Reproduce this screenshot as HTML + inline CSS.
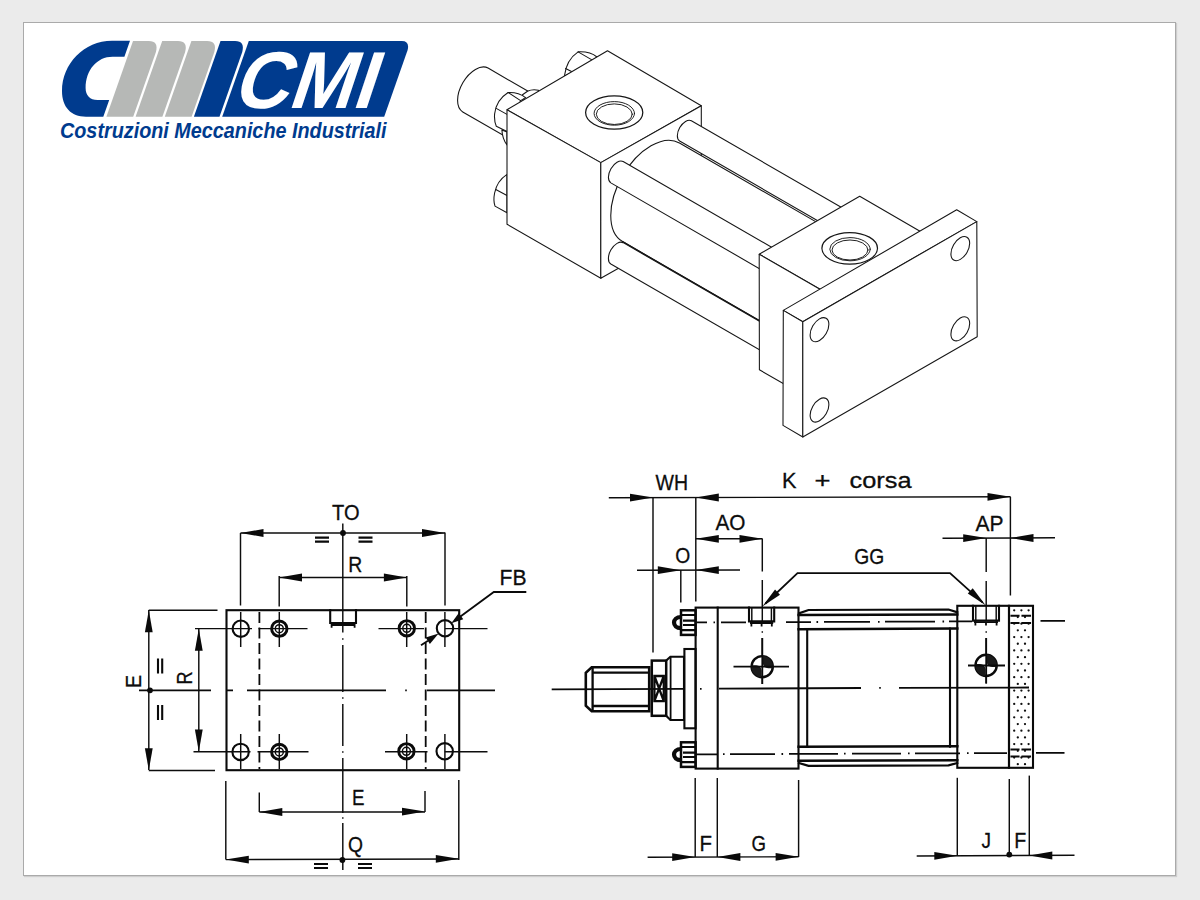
<!DOCTYPE html>
<html lang="it"><head><meta charset="utf-8"><title>CMI - Costruzioni Meccaniche Industriali</title>
<style>
html,body{margin:0;padding:0}
body{width:1200px;height:900px;background:#ebebeb;overflow:hidden;position:relative;font-family:"Liberation Sans",sans-serif}
#panel{position:absolute;left:23px;top:22px;width:1151px;height:852px;background:#fff;border:1px solid #aaa;box-shadow:1px 1px 1px rgba(0,0,0,.12)}
svg{position:absolute;left:0;top:0}
.i{stroke:#161616;stroke-width:1.08;fill:#fff;stroke-linejoin:round;stroke-linecap:round}
.in{stroke:#161616;stroke-width:1.08;fill:none;stroke-linejoin:round;stroke-linecap:round}
.b{stroke:#0a0a0a;stroke-width:2.1;fill:none;stroke-linecap:square}
.m{stroke:#0a0a0a;stroke-width:1.8;fill:none}
.t{stroke:#0d0d0d;stroke-width:1.45;fill:none}
.a{fill:#0a0a0a;stroke:none}
.l{font-family:"Liberation Sans",sans-serif;font-size:22px;fill:#0d0d0d;stroke:#0d0d0d;stroke-width:.3px}
</style></head><body>
<div id="panel"></div>
<svg width="1200" height="900" viewBox="0 0 1200 900">
<path d="M106.4,116.7 L133.01,41.1 L148.81,41.1 Q158.81,41.1 155.94,52.1 L133.2,116.7 Z" fill="#b6b8b6"/>
<path d="M135.6,116.7 L162.21,41.1 L178.01,41.1 Q188.01,41.1 185.14,52.1 L162.4,116.7 Z" fill="#b6b8b6"/>
<path d="M164.8,116.7 L191.41,41.1 L207.21,41.1 Q217.21,41.1 214.34,52.1 L191.6,116.7 Z" fill="#b6b8b6"/>
<path d="M193.9,116.7 L220.51,41.1 L235.11,41.1 Q245.11,41.1 242.24,52.1 L219.5,116.7 Z" fill="#003b8e"/>
<path fill="#003b8e" d="M130,40.8 L112,40.8 C84,40.8 62,64 62,91 C62,107 71,116.7 86,116.7 L103.3,116.7 L109.2,100 L97.5,100 C90,100 85.6,95.5 85.6,88 C85.6,70 97,56.7 112.5,56.7 L124.4,56.7 Z"/>
<path d="M222.2,116.7 L248.81,41.1 L401.81,41.1 Q409.81,41.1 407.64,50.1 L384.2,116.7 Z" fill="#003b8e"/>
<text id="cmi" transform="translate(231,107.6) skewX(-18.4)" x="0" y="0" font-family="Liberation Sans, sans-serif" font-weight="700" font-size="80.5" fill="#fff" textLength="141" lengthAdjust="spacingAndGlyphs">CMI</text>
<text id="sub" x="60" y="137.5" font-family="Liberation Sans, sans-serif" font-weight="700" font-style="italic" font-size="22.3" fill="#003b8e" textLength="326.5" lengthAdjust="spacingAndGlyphs">Costruzioni Meccaniche Industriali</text>
<path d="M488.05,68.09 A25.3,14.61 -60 0 0 462.75,111.91 L522.75,146.55 L548.05,102.73 Z" fill="#fff" stroke="none"/><path class="in" d="M548.05,102.73 L488.05,68.09 A25.3,14.61 -60 0 0 462.75,111.91 L522.75,146.55"/>
<path class="i" d="M578.1,51.9 C572,56 566,63 564.4,76 L600,60 L597,57 C592,53 585,51.5 578.1,51.9 Z"/>
<path class="in" d="M578.1,51.9 L591.5,59.6 M565.6,68.5 L572,71.8"/>
<path class="i" d="M522.5,94.8 L527.5,91.2 C531,89.6 535,89.4 538.5,90.3 L540,98 L525,104 Z"/>
<path class="i" d="M508.1,92.5 C501,97 495.5,105 494.6,114 C494.2,119 494.8,123 496.3,126.3 L507,131.6 L520.6,100.6 L525.6,97.6 C521,94 515,92.2 508.1,92.5 Z"/>
<path class="in" d="M508.1,92.5 L520.6,100.6 M496.2,108.4 L507,114.4"/>
<path class="i" d="M501.9,130 C502.2,136 504,141 507,145 L507,132 Z"/>
<path class="i" d="M507,174.4 C500,179 496,186 494.6,193 C493.6,198 493.9,203 495,206.1 L507,212.8 Z"/>
<path class="in" d="M495.8,189.6 L507,195.6"/>
<polygon class="i" points="607.5,50.8 701.3,105.8 600.8,162.6 507,109.7"/>
<polygon class="i" points="507,109.7 600.8,162.6 600.8,278.3 507,224.2"/>
<polygon class="i" points="600.8,162.6 701.3,105.8 701.3,221.5 600.8,278.3"/>
<ellipse class="in" cx="614.2" cy="112.5" rx="28.6" ry="16.6" style="stroke-width:1.25"/>
<ellipse class="in" cx="614.3" cy="113.4" rx="20.2" ry="11.8" style="stroke-width:.95"/>
<ellipse class="in" cx="614.3" cy="114.2" rx="18" ry="10.3" style="stroke-width:.95"/>
<path d="M691.35,120.77 A11.7,6.76 -60 0 0 679.65,141.03 L854.65,242.07 L866.35,221.81 Z" fill="#fff" stroke="none"/><path class="in" d="M866.35,221.81 L691.35,120.77 A11.7,6.76 -60 0 0 679.65,141.03 L854.65,242.07"/>
<path d="M679.45,143.02 A56.9,32.85 -60 0 0 622.55,241.58 L772.55,328.18 L829.45,229.63 Z" fill="#fff" stroke="none"/><path class="in" d="M829.45,229.63 L679.45,143.02 A56.9,32.85 -60 0 0 622.55,241.58 L772.55,328.18"/>
<path d="M623.15,161.55 A12.3,7.1 -60 0 0 610.85,182.85 L770.85,275.23 L783.15,253.93 Z" fill="#fff" stroke="none"/><path class="in" d="M783.15,253.93 L623.15,161.55 A12.3,7.1 -60 0 0 610.85,182.85 L770.85,275.23"/>
<path d="M623.15,242.65 A12.3,7.1 -60 0 0 610.85,263.95 L770.85,356.33 L783.15,335.03 Z" fill="#fff" stroke="none"/><path class="in" d="M783.15,335.03 L623.15,242.65 A12.3,7.1 -60 0 0 610.85,263.95 L770.85,356.33"/>
<path class="in" d="M622.55,241.58 L762,322.1"/>
<polygon class="i" points="859.7,196.3 922.6,232.7 822.6,290.8 759.2,254.2"/>
<polygon class="i" points="759.2,254.2 822.6,290.8 822.6,406 759.4,369.8"/>
<ellipse class="in" cx="849.7" cy="248.3" rx="27.8" ry="15.8" style="stroke-width:1.25"/>
<ellipse class="in" cx="850" cy="249.2" rx="20.2" ry="11.6" style="stroke-width:.95"/>
<ellipse class="in" cx="850" cy="250" rx="18" ry="10" style="stroke-width:.95"/>
<polygon class="i" points="783.3,310.4 956.7,209.7 976.8,221.6 802.8,321.7"/>
<polygon class="i" points="783.3,310.4 802.8,321.7 802.8,437 783,425.4"/>
<polygon class="i" points="802.8,321.7 976.8,221.6 977.2,336.8 802.8,437"/>
<ellipse class="in" cx="819.5" cy="329.7" rx="13.2" ry="7.7" transform="rotate(-60 819.5 329.7)"/>
<ellipse class="in" cx="819.5" cy="410" rx="13.2" ry="7.7" transform="rotate(-60 819.5 410)"/>
<ellipse class="in" cx="960.3" cy="248.6" rx="13.2" ry="7.7" transform="rotate(-60 960.3 248.6)"/>
<ellipse class="in" cx="960.3" cy="328.8" rx="13.2" ry="7.7" transform="rotate(-60 960.3 328.8)"/>
<rect class="b" x="226.5" y="610.2" width="232.7" height="160"/>
<path class="t" d="M342.8,523.5 V632.5 M342.8,638.2 V639.8 M342.8,645 V692 M342.8,697.2 V698.8 M342.8,704 V746 M342.8,751.2 V752.8 M342.8,758 V813 M342.8,817.2 V818.8 M342.8,823 V870"/>
<path class="m" d="M139,690.3 H211 M227,690.3 H233 M247,690.3 H386 M405.2,690.3 H406.8 M427,690.3 H495"/>
<path class="m" d="M259.4,612 V769 M425.7,612 V769" stroke-dasharray="11 4.5"/>
<path class="b" d="M330.2,610 V623 H356 V610"/>
<path class="m" d="M331,625 H355.2 M331.6,623 V627.8 M354.6,623 V627.8"/>
<circle class="b" cx="240.8" cy="628.7" r="8.2" style="stroke-width:2.1"/>
<circle class="b" cx="445" cy="628.3" r="8.2" style="stroke-width:2.1"/>
<circle class="b" cx="240.6" cy="751.9" r="8.2" style="stroke-width:2.1"/>
<circle class="b" cx="444.7" cy="751.3" r="8.2" style="stroke-width:2.1"/>
<circle class="b" cx="279.3" cy="628.7" r="7.7" style="stroke-width:2.9"/>
<circle class="t" cx="279.3" cy="628.7" r="4"/>
<circle class="b" cx="406.8" cy="628.3" r="7.7" style="stroke-width:2.9"/>
<circle class="t" cx="406.8" cy="628.3" r="4"/>
<circle class="b" cx="279.3" cy="751.9" r="7.7" style="stroke-width:2.9"/>
<circle class="t" cx="279.3" cy="751.9" r="4"/>
<circle class="b" cx="406.4" cy="751.3" r="7.7" style="stroke-width:2.9"/>
<circle class="t" cx="406.4" cy="751.3" r="4"/>
<path class="t" d="M195,628.6 H252 M258.5,628.6 H307.5 M378.5,628.6 H424 M445,628.6 H487.5"/>
<path class="t" d="M193.5,751.7 H250.5 M257.5,751.7 H308.5 M385,751.7 H427.5 M444.7,751.7 H487.5"/>
<path class="t" d="M240.7,612 V647 M240.7,734 V769"/>
<path class="t" d="M279.3,612 V647 M279.3,734 V769"/>
<path class="t" d="M406.7,612 V647 M406.7,734 V769"/>
<path class="t" d="M444.9,612 V647 M444.9,734 V769"/>
<path class="t" d="M240.5,533 L445,533"/>
<polygon class="a" points="240.5,533 263.5,529.1 263.5,536.9"/>
<polygon class="a" points="445,533 422,536.9 422,529.1"/>
<circle class="a" cx="343" cy="533" r="2.9"/>
<path class="t" d="M240.5,533 V605.5"/>
<path class="t" d="M445,532.5 V605.5"/>
<path class="m" d="M315,537.6 h14 M315,541.6 h14" style="stroke-width:2.1"/>
<path class="m" d="M358.5,537.6 h14 M358.5,541.6 h14" style="stroke-width:2.1"/>
<text class="l" x="332" y="520" textLength="27.5" lengthAdjust="spacingAndGlyphs">TO</text>
<path class="t" d="M279,577.5 L407,577.5"/>
<polygon class="a" points="279,577.5 302,573.6 302,581.4"/>
<polygon class="a" points="406.9,577.5 383.9,581.4 383.9,573.6"/>
<path class="t" d="M279.2,576 V606.5"/>
<path class="t" d="M406.8,576 V606.5"/>
<text class="l" x="348.2" y="572" textLength="14" lengthAdjust="spacingAndGlyphs" font-size="20.5">R</text>
<text class="l" x="499.5" y="584.5" textLength="27" lengthAdjust="spacingAndGlyphs">FB</text>
<path class="m" d="M526.3,592 H493.8 L455,620.5"/>
<polygon class="a" points="451.3,623.2 458.77,613.07 463.24,619.22"/>
<path class="m" d="M421,645.3 L428,640.7"/>
<polygon class="a" points="438.6,633.6 429.86,643.94 425.66,637.61"/>
<path class="t" d="M148.8,610 L148.8,770"/>
<polygon class="a" points="148.8,610.2 152.7,632.2 144.9,632.2"/>
<polygon class="a" points="148.8,770.2 144.9,748.2 152.7,748.2"/>
<circle class="a" cx="150" cy="690.3" r="2.9"/>
<path class="t" d="M148.8,610.2 H217.5"/>
<path class="t" d="M148.8,770.4 H215"/>
<path class="m" d="M158,658.5 v15 M162.2,658.5 v15" style="stroke-width:2.1"/>
<path class="m" d="M158,705 v15 M162.2,705 v15" style="stroke-width:2.1"/>
<text class="l" transform="translate(141.3,688) rotate(-90)" textLength="13" lengthAdjust="spacingAndGlyphs">E</text>
<path class="t" d="M198.8,629 L198.8,751.5"/>
<polygon class="a" points="198.8,628.8 202.7,650.8 194.9,650.8"/>
<polygon class="a" points="198.8,751.4 194.9,729.4 202.7,729.4"/>
<text class="l" transform="translate(192.3,684.5) rotate(-90)" textLength="13" lengthAdjust="spacingAndGlyphs" font-size="20.5">R</text>
<path class="t" d="M259.3,812 L425,812"/>
<polygon class="a" points="259.3,812 282.3,808.1 282.3,815.9"/>
<polygon class="a" points="425,811.6 402,815.5 402,807.7"/>
<path class="t" d="M259.3,792.5 V812"/>
<path class="t" d="M425,791 V812"/>
<text class="l" x="352" y="805" textLength="12.5" lengthAdjust="spacingAndGlyphs">E</text>
<path class="t" d="M225.8,859.6 L458.8,859"/>
<polygon class="a" points="225.8,859.6 248.8,855.7 248.8,863.5"/>
<polygon class="a" points="458.8,858.8 435.8,862.7 435.8,854.9"/>
<circle class="a" cx="342.4" cy="860" r="2.9"/>
<path class="t" d="M225.8,781 V859.6"/>
<path class="t" d="M458.8,780 V860"/>
<path class="m" d="M314,864 h14 M314,868 h14" style="stroke-width:2.1"/>
<path class="m" d="M358,864 h14 M358,868 h14" style="stroke-width:2.1"/>
<text class="l" x="348" y="852.3" textLength="15" lengthAdjust="spacingAndGlyphs" font-size="20.5">Q</text>
<path class="t" d="M608.8,497.7 L1010.5,496.8"/>
<polygon class="a" points="653,497.6 630,501.5 630,493.7"/>
<polygon class="a" points="695.8,497.5 718.8,493.6 718.8,501.4"/>
<polygon class="a" points="1010.5,496.8 987.5,500.7 987.5,492.9"/>
<path class="t" d="M653,497.5 V652.5"/>
<path class="t" d="M695.8,497.5 V601.5"/>
<path class="t" d="M1010.4,496.8 V595.5"/>
<text class="l" x="655.5" y="490" textLength="32.5" lengthAdjust="spacingAndGlyphs">WH</text>
<text class="l" y="487.6"><tspan x="782" textLength="14.5" lengthAdjust="spacingAndGlyphs">K</tspan><tspan> </tspan><tspan x="814.5" textLength="16" lengthAdjust="spacingAndGlyphs">+</tspan><tspan> </tspan><tspan x="849.5" textLength="62" lengthAdjust="spacingAndGlyphs">corsa</tspan></text>
<path class="t" d="M695.8,538.8 L762.5,538.8"/>
<polygon class="a" points="695.8,538.8 718.8,534.9 718.8,542.7"/>
<polygon class="a" points="762.5,538.8 739.5,542.7 739.5,534.9"/>
<text class="l" x="715.5" y="530.2" textLength="30" lengthAdjust="spacingAndGlyphs">AO</text>
<path class="t" d="M762.3,538.8 V571.5 M762.3,580 V622 M762.3,631.2 V632.8 M762.3,638 V684"/>
<path class="t" d="M637,570.2 L740,570"/>
<polygon class="a" points="680.8,570.2 657.8,574.1 657.8,566.3"/>
<polygon class="a" points="695.8,570.1 718.8,566.2 718.8,574"/>
<path class="t" d="M680.8,570 V602.5"/>
<text class="l" x="675.3" y="562.6" textLength="15" lengthAdjust="spacingAndGlyphs" font-size="20.5">O</text>
<text class="l" x="854.3" y="563.8" textLength="30" lengthAdjust="spacingAndGlyphs">GG</text>
<path class="m" d="M765.5,603.5 L797.5,573.2 H950 L982.5,602.3"/>
<polygon class="a" points="762.3,606.6 775.05,589.53 780.01,594.76"/>
<polygon class="a" points="985.6,605.2 967.79,593.51 972.7,588.25"/>
<path class="t" d="M942.5,538.3 L1055,537.8"/>
<polygon class="a" points="986.2,538.1 963.2,542 963.2,534.2"/>
<polygon class="a" points="1010.5,538 1033.5,534.1 1033.5,541.9"/>
<text class="l" x="975.5" y="530.6" textLength="28" lengthAdjust="spacingAndGlyphs">AP</text>
<path class="t" d="M986.2,538 V572 M986.2,581 V621 M986.2,631.2 V632.8 M986.2,638 V683.5"/>
<path class="b" d="M591.7,667.2 H649.2 V711.2 H591.7 L585.8,705.6 V672.8 Z" style="stroke-width:2.6"/>
<path class="m" d="M592.6,668 V710.5 M592.6,672.6 H648.5 M592.6,706 H648.5" style="stroke-width:2.3"/>
<rect class="b" x="651.8" y="660.6" width="14.4" height="55.2" style="stroke-width:2.5"/>
<path class="m" d="M654.4,676 H663.8 V701.2 H654.4 Z M654.4,676 L663.8,701.2 M663.8,676 L654.4,701.2" style="stroke-width:2.3"/>
<path class="b" d="M666.2,660.6 L670.4,656.7 H684 V720 H670.4 L666.2,715.8"/>
<path class="m" d="M670.6,657 V719.8"/>
<rect class="b" x="684.4" y="649" width="11.2" height="79.3"/>
<path class="m" d="M551.7,689.3 L683.5,688.9"/>
<rect class="b" x="681" y="610.3" width="14.6" height="24.6" fill="#fff" style="stroke-width:2.5"/>
<path class="m" d="M681,615 H695.6 M681,630.2 H695.6 M683,620.6 H695.6 M683,625 H695.6" style="stroke-width:2.2"/>
<path d="M681,617 C671.7,617 671.7,628.2 681,628.2" fill="none" stroke="#0a0a0a" stroke-width="4.2"/>
<rect class="b" x="681" y="742.3" width="14.6" height="24.6" fill="#fff" style="stroke-width:2.5"/>
<path class="m" d="M681,747 H695.6 M681,762.2 H695.6 M683,752.6 H695.6 M683,757 H695.6" style="stroke-width:2.2"/>
<path d="M681,749 C671.7,749 671.7,760.2 681,760.2" fill="none" stroke="#0a0a0a" stroke-width="4.2"/>
<rect class="b" x="695.6" y="607.6" width="102.9" height="161"/>
<path class="b" d="M717.7,607.6 V768.6"/>
<path class="b" d="M749,607.6 V621.4 H774.2 V607.6"/>
<path class="m" d="M750,623 H773.2 M751.4,621.4 v5 M771.8,621.4 v5 M761.6,622.4 v4"/>
<path class="t" d="M751.8,607.6 V621.4 M771.4,607.6 V621.4"/>
<circle cx="762.2" cy="666.7" r="10.6" fill="#fff" stroke="#0a0a0a" stroke-width="2.4"/>
<path fill="#1b1b1b" d="M762.7,662.7 L762.7,656.1 A10.6,10.6 0 0 1 772.8,668.2 L768.2,668.2 Q763.2,667.7 762.7,662.7 Z"/>
<path fill="#1b1b1b" d="M761.7,670.7 L761.7,677.3 A10.6,10.6 0 0 1 751.6,665.2 L756.2,665.2 Q761.2,665.7 761.7,670.7 Z"/>
<path class="m" d="M733.5,666.7 H789"/>
<path class="m" d="M762.3,638 V684"/>
<path class="m" d="M700,688.8 h1.6 M719,688.7 L861,688 M879.2,687.9 h1.6 M899,687.8 L1029,687.5"/>
<path class="m" d="M696.5,622.3 H707 M713.5,622.3 h1.5 M721,622.3 H746 M786,622.1 H811 M816.5,622 h1.6 M824,621.9 H870 M878,621.8 h1.6 M885,621.7 H935 M942.5,621.5 h1.6 M949,621.4 H972 M1040.5,620.8 H1065"/>
<path class="m" d="M695.6,754.3 H717.7 M723,754.2 h1.6 M730,754.2 H775 M781.5,754 h1.6 M789,753.8 H838 M844,753.6 h1.6 M852,753.6 H901 M908,753.4 h1.6 M915,753.4 H960 M967,753.2 h1.6 M974,753.1 H1007 M1036,752.8 H1064.5"/>
<path class="b" d="M799,613.4 L808.5,610 L948.5,609.5 L957.3,612.3" style="stroke-width:2.2"/>
<path class="b" d="M799,763 L808.5,765.9 L948.5,765.4 L957.3,763" style="stroke-width:2.2"/>
<path class="b" d="M798.6,615.1 L957.3,614.5" style="stroke-width:2.5"/>
<path class="b" d="M798.6,629.2 L957.3,628.6" style="stroke-width:2.5"/>
<path class="b" d="M798.6,746.8 L957.3,746.3" style="stroke-width:2.5"/>
<path class="b" d="M798.6,760.8 L957.3,760.3" style="stroke-width:2.5"/>
<path class="b" d="M807.2,629 V747 M950,628.5 V746.6"/>
<rect class="b" x="957.3" y="605.8" width="51.7" height="162"/>
<rect class="b" x="1009" y="605.8" width="24" height="162"/>
<path class="b" d="M973,605.8 V620.6 H999 V605.8"/>
<path class="m" d="M974,622.2 H998 M975.4,620.6 v5 M996.6,620.6 v5 M986,621.6 v4"/>
<path class="t" d="M975.8,605.8 V620.6 M996.2,605.8 V620.6"/>
<circle cx="986.1" cy="665.4" r="10.6" fill="#fff" stroke="#0a0a0a" stroke-width="2.4"/>
<path fill="#1b1b1b" d="M986.6,661.4 L986.6,654.8 A10.6,10.6 0 0 1 996.7,666.9 L992.1,666.9 Q987.1,666.4 986.6,661.4 Z"/>
<path fill="#1b1b1b" d="M985.6,669.4 L985.6,676 A10.6,10.6 0 0 1 975.5,663.9 L980.1,663.9 Q985.1,664.4 985.6,669.4 Z"/>
<path class="m" d="M968,665.5 H1005"/>
<path class="m" d="M986.2,638 V683.5"/>
<path d="M1014.2,610.3 h.01 M1021.4,610.3 h.01 M1028.6,610.3 h.01 M1017.8,616.99 h.01 M1025,616.99 h.01 M1014.2,623.68 h.01 M1021.4,623.68 h.01 M1028.6,623.68 h.01 M1017.8,630.37 h.01 M1025,630.37 h.01 M1014.2,637.06 h.01 M1021.4,637.06 h.01 M1028.6,637.06 h.01 M1017.8,643.75 h.01 M1025,643.75 h.01 M1014.2,650.44 h.01 M1021.4,650.44 h.01 M1028.6,650.44 h.01 M1017.8,657.13 h.01 M1025,657.13 h.01 M1014.2,663.82 h.01 M1021.4,663.82 h.01 M1028.6,663.82 h.01 M1017.8,670.51 h.01 M1025,670.51 h.01 M1014.2,677.2 h.01 M1021.4,677.2 h.01 M1028.6,677.2 h.01 M1017.8,683.89 h.01 M1025,683.89 h.01 M1014.2,690.58 h.01 M1021.4,690.58 h.01 M1028.6,690.58 h.01 M1017.8,697.27 h.01 M1025,697.27 h.01 M1014.2,703.96 h.01 M1021.4,703.96 h.01 M1028.6,703.96 h.01 M1017.8,710.65 h.01 M1025,710.65 h.01 M1014.2,717.34 h.01 M1021.4,717.34 h.01 M1028.6,717.34 h.01 M1017.8,724.03 h.01 M1025,724.03 h.01 M1014.2,730.72 h.01 M1021.4,730.72 h.01 M1028.6,730.72 h.01 M1017.8,737.41 h.01 M1025,737.41 h.01 M1014.2,744.1 h.01 M1021.4,744.1 h.01 M1028.6,744.1 h.01 M1017.8,750.79 h.01 M1025,750.79 h.01 M1014.2,757.48 h.01 M1021.4,757.48 h.01 M1028.6,757.48 h.01 M1017.8,764.17 h.01 M1025,764.17 h.01" stroke="#111" stroke-width="2.3" stroke-linecap="round" fill="none"/>
<path class="b" d="M1011.5,615.8 h7 M1022.5,615.8 h7.5"/>
<path class="b" d="M1011.5,623 h7 M1022.5,623 h7.5"/>
<path class="b" d="M1011.5,749.5 h7 M1022.5,749.5 h7.5"/>
<path class="b" d="M1011.5,756.5 h7 M1022.5,756.5 h7.5"/>
<path class="t" d="M647.6,857.2 L798.6,856.8"/>
<polygon class="a" points="695.2,857.1 672.2,861 672.2,853.2"/>
<polygon class="a" points="717.4,857 740.4,853.1 740.4,860.9"/>
<polygon class="a" points="798.6,856.8 775.6,860.7 775.6,852.9"/>
<path class="t" d="M695.2,778 V857"/>
<path class="t" d="M717.3,778 V857"/>
<path class="t" d="M798.6,780 V857"/>
<text class="l" x="699.5" y="850.6" textLength="12.5" lengthAdjust="spacingAndGlyphs">F</text>
<text class="l" x="751.5" y="850.6" textLength="14.5" lengthAdjust="spacingAndGlyphs" font-size="20.5">G</text>
<path class="t" d="M916.7,856 L1074.5,855.3"/>
<polygon class="a" points="957.3,855.8 934.3,859.7 934.3,851.9"/>
<polygon class="a" points="1029.3,855.5 1052.3,851.6 1052.3,859.4"/>
<circle class="a" cx="1009.3" cy="854.6" r="2.9"/>
<path class="t" d="M957.3,777.8 V855.8"/>
<path class="t" d="M1009.3,779 V855.6"/>
<path class="t" d="M1029.3,775.6 V855.6"/>
<text class="l" x="981.5" y="847.8" textLength="9.5" lengthAdjust="spacingAndGlyphs">J</text>
<text class="l" x="1014.3" y="847.8" textLength="12" lengthAdjust="spacingAndGlyphs">F</text>
</svg>
</body></html>
